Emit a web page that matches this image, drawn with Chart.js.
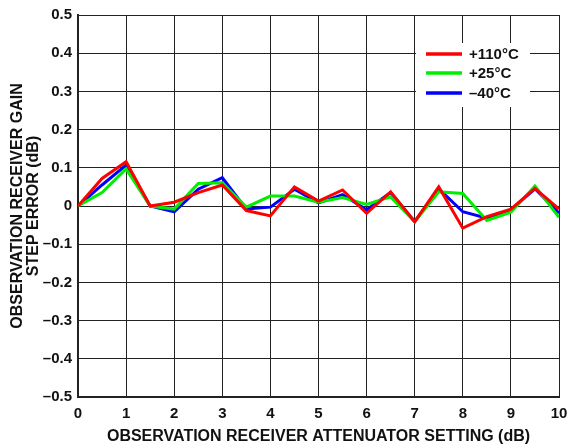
<!DOCTYPE html>
<html>
<head>
<meta charset="utf-8">
<script src="https://cdn.jsdelivr.net/npm/chart.js@4"></script>
<style>
  html, body { margin: 0; padding: 0; background: #fff; }
  #wrap { width: 570px; height: 446px; }
</style>
</head>
<body>
<div id="wrap"><canvas id="gain-chart" width="570" height="446"></canvas></div>
<script>
// attenuator setting (dB)
const attenSteps = [0, 0.5, 1, 1.5, 2, 2.5, 3, 3.5, 4, 4.5, 5, 5.5, 6, 6.5, 7, 7.5, 8, 8.5, 9, 9.5, 10];

// step error (dB) per temperature
const hot110 = [0, 0.072, 0.116, 0, 0.01, 0.035, 0.055, -0.012, -0.026, 0.05, 0.013, 0.042, -0.019, 0.037, -0.041, 0.05, -0.058, -0.028, -0.008, 0.046, -0.008];
const room25 = [0, 0.035, 0.097, 0, -0.008, 0.059, 0.061, -0.003, 0.026, 0.026, 0.01, 0.022, 0.004, 0.024, -0.041, 0.037, 0.033, -0.038, -0.016, 0.052, -0.03];
const cold40 = [0, 0.055, 0.107, 0, -0.015, 0.044, 0.074, -0.008, -0.003, 0.044, 0.008, 0.03, -0.01, 0.035, -0.041, 0.045, -0.015, -0.032, -0.01, 0.045, -0.019];

const seriesLabels = ['+110°C', '+25°C', '–40°C'];
const seriesColors = ['#ff0000', '#00ee00', '#0000ff'];

const FONT = 'Liberation Sans, Arial, Helvetica, sans-serif';

function pts(vals) {
  return attenSteps.map((x, i) => ({ x: x, y: vals[i] }));
}

// legend box drawn inside the plot, over the grid
const boxLegend = {
  id: 'boxLegend',
  afterDatasetsDraw(chart) {
    const ctx = chart.ctx;
    ctx.save();
    ctx.fillStyle = '#fff';
    ctx.fillRect(416, 43, 114, 64);
    ctx.font = 'bold 15px ' + FONT;
    ctx.textBaseline = 'middle';
    const rows = [54, 73, 93];
    chart.data.datasets.forEach((ds, i) => {
      ctx.strokeStyle = ds.borderColor;
      ctx.lineWidth = 3.5;
      ctx.beginPath();
      ctx.moveTo(426, rows[i]);
      ctx.lineTo(462, rows[i]);
      ctx.stroke();
      ctx.fillStyle = '#111';
      ctx.fillText(ds.label, 469, rows[i] + 1);
    });
    ctx.restore();
  }
};

new Chart('gain-chart', {
  type: 'line',
  data: {
    datasets: [
      { label: seriesLabels[0], data: pts(hot110), borderColor: seriesColors[0] },
      { label: seriesLabels[1], data: pts(room25), borderColor: seriesColors[1] },
      { label: seriesLabels[2], data: pts(cold40), borderColor: seriesColors[2] }
    ]
  },
  options: {
    responsive: false,
    animation: false,
    layout: { padding: { top: 13, right: 11, left: 0, bottom: 0 } },
    elements: {
      line: { borderWidth: 3, tension: 0, borderJoinStyle: 'miter' },
      point: { radius: 0 }
    },
    plugins: { legend: { display: false }, tooltip: { enabled: false } },
    scales: {
      x: {
        type: 'linear',
        min: 0, max: 10,
        afterFit(scale) {
          scale.height = 49;
          scale.paddingRight = 0;
          scale.paddingLeft = 0;
        },
        ticks: {
          stepSize: 1, padding: 8,
          color: '#111',
          font: { family: FONT, size: 15, weight: 'bold' }
        },
        grid: { color: '#222', lineWidth: 1, drawTicks: false },
        border: { color: '#222', width: 2 },
        title: {
          display: true,
          text: 'OBSERVATION RECEIVER ATTENUATOR SETTING (dB)',
          color: '#111',
          font: { family: FONT, size: 16, weight: 'bold' },
          padding: { top: 0, bottom: 0 }
        }
      },
      y: {
        min: -0.5, max: 0.5,
        afterFit(scale) { scale.width = 78; },
        ticks: {
          stepSize: 0.1, padding: 6,
          color: '#111',
          font: { family: FONT, size: 15, weight: 'bold' },
          callback(v) {
            const r = Math.round(v * 10) / 10;
            if (r === 0) return '0';
            return r < 0 ? '–' + Math.abs(r).toFixed(1) : r.toFixed(1);
          }
        },
        grid: { color: '#222', lineWidth: 1, drawTicks: false },
        border: { color: '#222', width: 2 },
        title: {
          display: true,
          text: ['OBSERVATION RECEIVER GAIN', 'STEP ERROR (dB)'],
          color: '#111',
          font: { family: FONT, size: 16, weight: 'bold', lineHeight: 0.97 },
          padding: { top: 10, bottom: 0 }
        }
      }
    }
  },
  plugins: [boxLegend]
});
</script>
</body>
</html>
